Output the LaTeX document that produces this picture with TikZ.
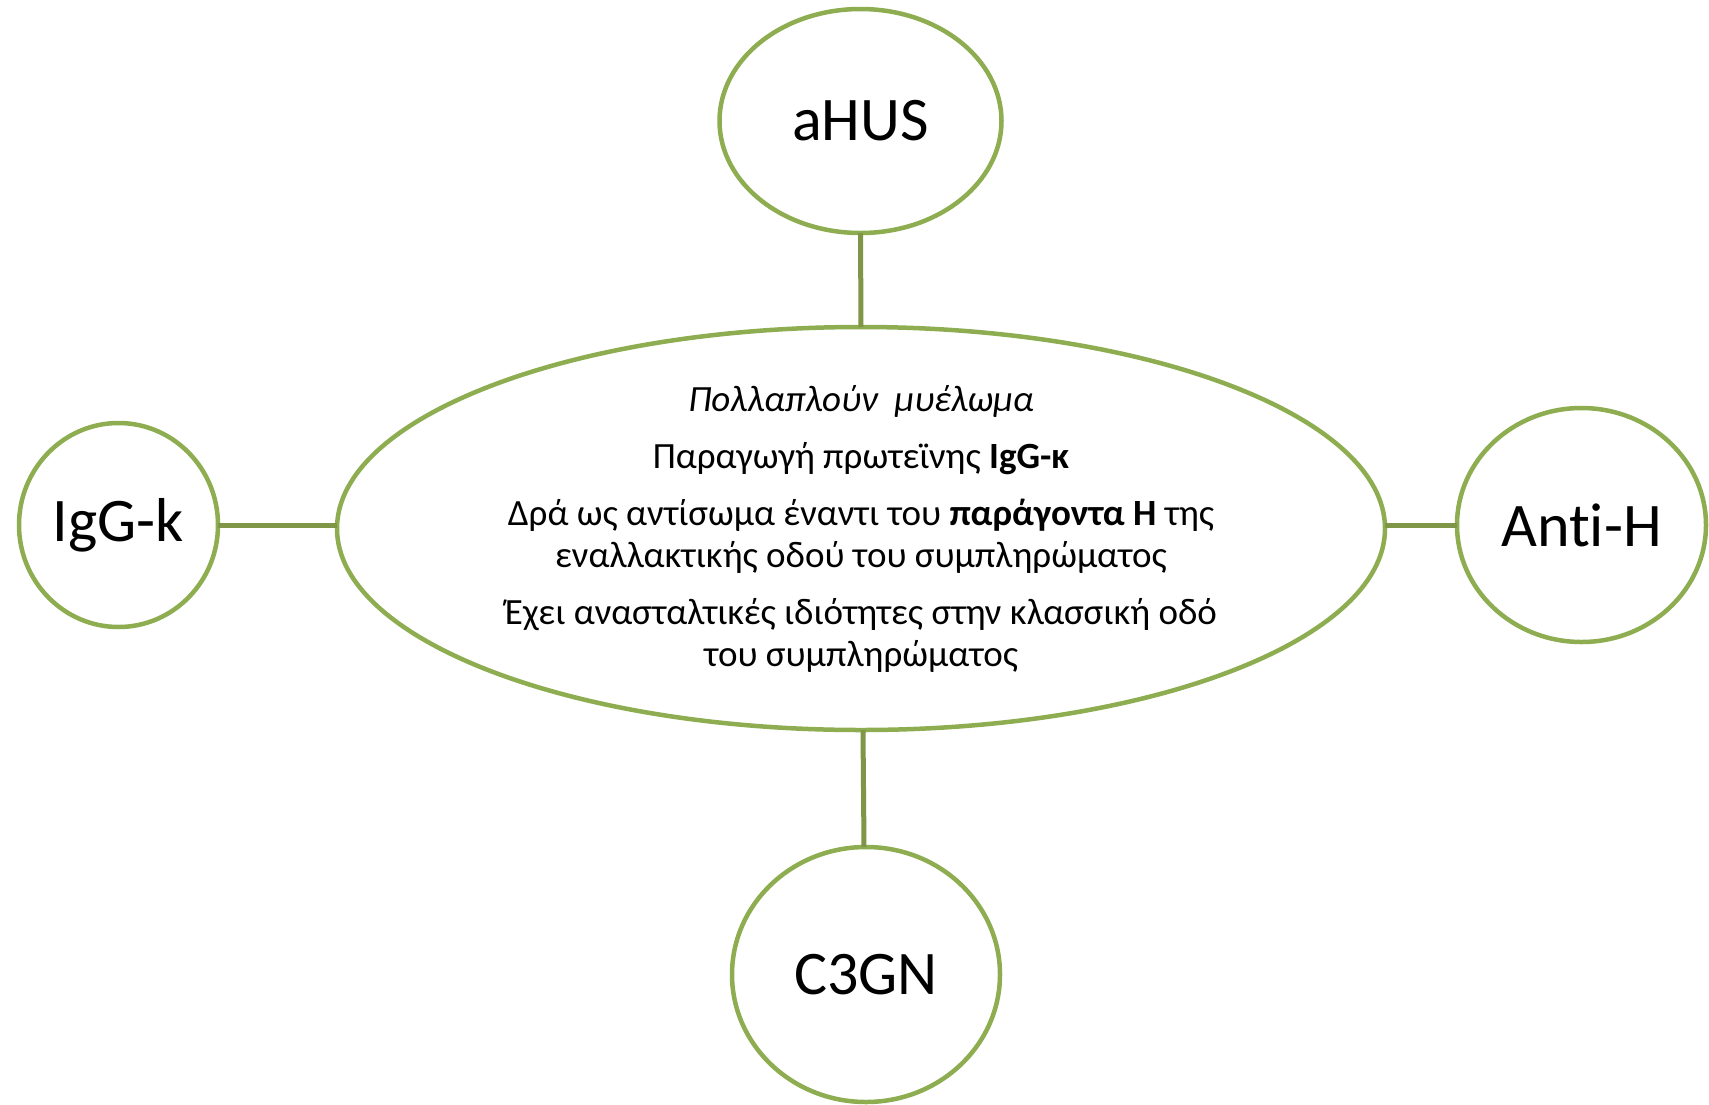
\documentclass[tikz,border=0pt]{standalone}
\usepackage{fontspec}
\setmainfont{Carlito}
\usetikzlibrary{shapes.geometric}
\definecolor{ringgreen}{RGB}{141,173,80}
\definecolor{linkgreen}{RGB}{126,150,70}
\tikzset{
  ring/.style={ellipse, draw=ringgreen, line width=4.5pt, fill=white, inner sep=0pt, outer sep=0pt},
  lbl/.style={font=\fontsize{62}{70}\selectfont, text=black},
  link/.style={draw=linkgreen, line width=5pt},
  body/.style={align=center, font=\fontsize{37}{42}\selectfont, text=black, inner sep=0pt}
}
\begin{document}
\begin{tikzpicture}[x=1pt,y=-1pt]
\useasboundingbox (0,0) rectangle (1709,1104);
\fill[white] (0,0) rectangle (1709,1104);
\node[ring, minimum width=1048pt, minimum height=403pt] (c) at (861,528.5) {};
\node[ring, minimum width=282pt, minimum height=224pt] (ahus) at (860.5,121) {};
\node[lbl] (ahust) at (ahus.center) {aHUS};
\node[ring, minimum width=199pt, minimum height=204pt] (igg) at (118.5,525) {};
\node[lbl] (iggt) at (igg.center) {IgG-k};
\node[ring, minimum width=249pt, minimum height=234pt] (anti) at (1581.5,525) {};
\node[lbl] (antit) at (anti.center) {Ant\kern0pt i-H};
\node[ring, minimum width=268pt, minimum height=255pt] (c3) at (866,974.5) {};
\node[lbl] (c3t) at (c3.center) {C3GN};
\node[body] (ct) at (861,529) {\textit{Πολλαπλούν\ \ μυέλωμα}\\[15pt]
Παραγωγή πρωτεϊνης \textbf{IgG-κ}\\[15pt]
Δρά ως αντίσωμα έναντι του \textbf{παράγοντα H} της\\
εναλλακτικής οδού του συμπληρώματος\\[15pt]
Έχει ανασταλτικές ιδιότητες στην κλασσική οδό\\
του συμπληρώματος};
\draw[link] (ahus.south) -- (c.north);
\draw[link] ([xshift=2pt]c.south) -- ([xshift=-2pt]c3.north);
\draw[link] (igg.east) -- (igg.east -| c.west);
\draw[link] (c.east |- anti.west) -- (anti.west);
\end{tikzpicture}
\end{document}
